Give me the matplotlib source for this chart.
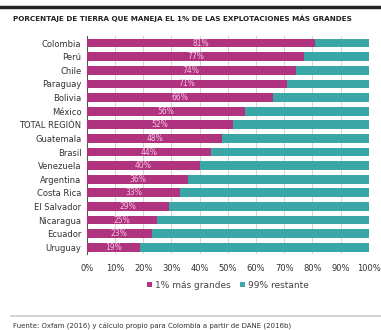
import matplotlib.pyplot as plt
from matplotlib.lines import Line2D

plt.rcParams['font.family'] = ['Liberation Sans Narrow', 'DejaVu Sans']

paises = ['Colombia', 'Perú', 'Chile', 'Paraguay', 'Bolivia', 'México',
          'TOTAL REGIÓN', 'Guatemala', 'Brasil', 'Venezuela', 'Argentina',
          'Costa Rica', 'El Salvador', 'Nicaragua', 'Ecuador', 'Uruguay']
grandes = [81, 77, 74, 71, 66, 56, 52, 48, 44, 40, 36, 33, 29, 25, 23, 19]
restante = [100 - g for g in grandes]

magenta = '#B0337F'
teal = '#3AA6A6'

fig = plt.figure(figsize=(3.81, 3.30), dpi=100)
ax = fig.add_axes([0.228, 0.23, 0.74, 0.66])

y = list(range(len(paises)))
ax.barh(y, grandes, height=0.64, color=magenta, zorder=3, label='1% más grandes')
ax.barh(y, restante, left=grandes, height=0.64, color=teal, zorder=3, label='99% restante')

for yi, g in zip(y, grandes):
    ax.text(g / 2, yi, f'{g}%', ha='center', va='center', color='#F2C6DE',
            fontsize=5.5, zorder=4)

ax.set_ylim(len(paises) - 0.5, -0.5)
ax.set_xlim(0, 100)
ax.set_yticks(y)
ax.set_yticklabels(paises, fontsize=6, color='#333333')
ax.set_xticks(range(0, 101, 10))
ax.set_xticklabels([f'{v}%' for v in range(0, 101, 10)], fontsize=6, color='#333333')
ax.tick_params(axis='y', length=0, pad=4)
ax.tick_params(axis='x', length=0, pad=7)
ax.grid(axis='x', color='#cccccc', linewidth=0.6, zorder=0)
for s in ['top', 'right', 'bottom']:
    ax.spines[s].set_visible(False)
ax.spines['left'].set_color('#555555')
ax.spines['left'].set_linewidth(0.8)

ax.legend(loc='upper center', bbox_to_anchor=(0.5, -0.085), ncol=2, frameon=False,
          fontsize=6.5, handlelength=0.6, handleheight=0.6, handletextpad=0.3,
          columnspacing=1.0, labelcolor='#444444')

fig.add_artist(Line2D([0.0, 1.0], [0.978, 0.978], color='#222222', linewidth=2.5))
fig.text(0.035, 0.945, 'PORCENTAJE DE TIERRA QUE MANEJA EL 1% DE LAS EXPLOTACIONES MÁS GRANDES',
         fontsize=5.2, fontweight='bold', color='#222222', va='center')
fig.add_artist(Line2D([0.03, 1.0], [0.043, 0.043], color='#cccccc', linewidth=1.2))
fig.text(0.035, 0.012, 'Fuente: Oxfam (2016) y cálculo propio para Colombia a partir de DANE (2016b)',
         fontsize=5, color='#333333', va='center')

fig.savefig('out.png', dpi=100)
